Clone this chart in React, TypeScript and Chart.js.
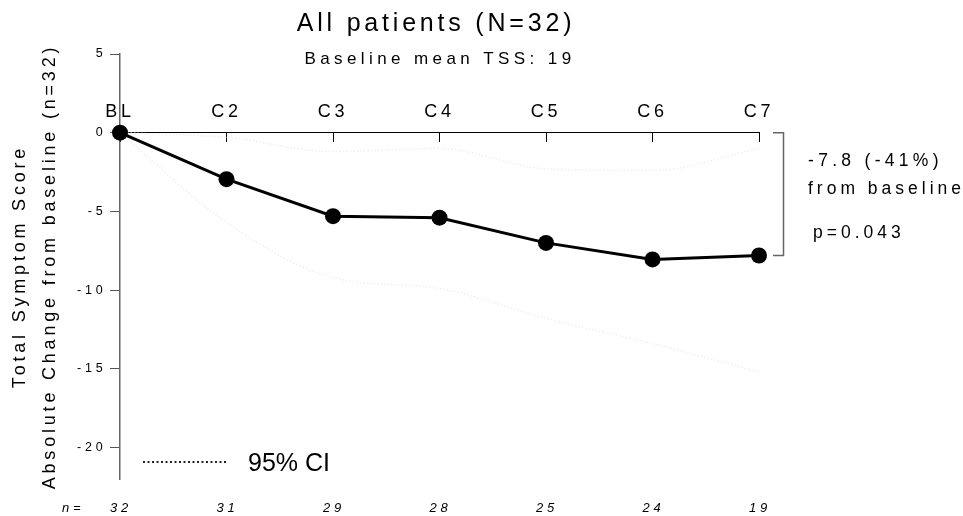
import React, { useEffect, useRef } from 'react';
import { Chart, registerables } from 'chart.js';

Chart.register(...registerables);

const categories = ['BL', 'C2', 'C3', 'C4', 'C5', 'C6', 'C7'];
const meanChange = [0, -2.95, -5.3, -5.4, -7.0, -8.05, -7.8];
const upperCI = [0, -0.3, -1.2, -1.0, -2.3, -2.4, -1.0];
const lowerCI = [0, -5.7, -9.2, -9.9, -11.8, -13.4, -15.2];
const nCounts = ['32', '31', '29', '28', '25', '24', '19'];
const yTicks = [5, 0, -5, -10, -15, -20];
const yMin = -22;
const yMax = 5;
const titleText = 'All patients (N=32)';
const subtitleText = 'Baseline mean TSS: 19';
const yTitleLines = ['Total Symptom Score', 'Absolute Change from baseline (n=32)'];
const annotationLines = ['-7.8 (-41%)', 'from baseline', 'p=0.043'];
const legendText = '95% CI';
const nLabel = 'n=';

const FONT = '"Liberation Sans", Arial, Helvetica, sans-serif';
const SPACING = '3.8px';

const spacingPlugin = {
  id: 'spacing',
  beforeDraw(chart: any) {
    (chart.ctx as any).letterSpacing = SPACING;
  },
};

const annotationsPlugin = {
  id: 'annotations',
  afterDraw(chart: any) {
    const ctx = chart.ctx as CanvasRenderingContext2D;
    const x = chart.scales.x;
    const y = chart.scales.y;
    ctx.save();
    (ctx as any).letterSpacing = SPACING;
    ctx.fillStyle = '#000';
    ctx.textBaseline = 'alphabetic';

    // Title + subtitle
    ctx.textAlign = 'center';
    ctx.font = `25px ${FONT}`;
    ctx.fillText(titleText, 436, 31);
    (ctx as any).letterSpacing = '4.4px';
    ctx.font = `17px ${FONT}`;
    ctx.fillText(subtitleText, 440, 64);

    // Bracket from baseline to last value
    const last = meanChange[meanChange.length - 1];
    const yTop = y.getPixelForValue(0);
    const yBot = y.getPixelForValue(last);
    const bx = 783.5;
    ctx.strokeStyle = '#666';
    ctx.lineWidth = 1.5;
    ctx.beginPath();
    ctx.moveTo(773, yTop);
    ctx.lineTo(bx, yTop);
    ctx.lineTo(bx, yBot);
    ctx.lineTo(773, yBot);
    ctx.stroke();

    // Annotation text
    ctx.textAlign = 'left';
    (ctx as any).letterSpacing = '4.3px';
    ctx.font = `17.5px ${FONT}`;
    ctx.fillText(annotationLines[0], 808, 166);
    (ctx as any).letterSpacing = '4px';
    ctx.fillText(annotationLines[1], 808, 194);
    ctx.fillText(annotationLines[2], 813, 238);

    // n row
    (ctx as any).letterSpacing = SPACING;
    ctx.font = `italic 13px ${FONT}`;
    ctx.textAlign = 'left';
    ctx.fillText(nLabel, 62, 512);
    ctx.textAlign = 'center';
    nCounts.forEach((n, i) => {
      ctx.fillText(n, x.getPixelForValue(i) + 1, 512);
    });

    // Legend
    ctx.strokeStyle = '#222';
    ctx.lineWidth = 2;
    ctx.setLineDash([2, 2.5]);
    ctx.beginPath();
    ctx.moveTo(143, 462);
    ctx.lineTo(228, 462);
    ctx.stroke();
    ctx.setLineDash([]);
    (ctx as any).letterSpacing = '0px';
    ctx.textAlign = 'left';
    ctx.font = `25px ${FONT}`;
    ctx.fillText(legendText, 248, 471);
    ctx.restore();
  },
};

export default function App() {
  const ref = useRef<HTMLCanvasElement | null>(null);

  useEffect(() => {
    if (!ref.current) return;
    const ciStyle = {
      borderColor: '#efefef',
      borderWidth: 1.5,
      borderDash: [1.5, 2],
      pointRadius: 0,
      fill: false,
      cubicInterpolationMode: 'monotone' as const,
      clip: false as any,
    };
    const chart = new Chart(ref.current, {
      type: 'line',
      data: {
        labels: categories,
        datasets: [
          {
            label: 'Mean change',
            data: meanChange,
            borderColor: '#000',
            backgroundColor: '#000',
            borderWidth: 3,
            pointRadius: 8,
            pointBackgroundColor: '#000',
            pointBorderColor: '#000',
            pointBorderWidth: 0,
            tension: 0,
            clip: false as any,
            order: 0,
          },
          { label: 'Upper 95% CI', data: upperCI, order: 1, ...ciStyle },
          { label: 'Lower 95% CI', data: lowerCI, order: 1, ...ciStyle },
        ],
      },
      options: {
        responsive: false,
        animation: false,
        events: [],
        layout: { padding: { left: 0, right: 204, top: 54, bottom: 37 } },
        plugins: {
          legend: { display: false },
          title: { display: false },
          tooltip: { enabled: false },
        },
        scales: {
          x: {
            type: 'category',
            offset: false,
            position: { y: 0 } as any,
            grid: {
              drawOnChartArea: false,
              drawTicks: true,
              tickLength: 9,
              tickColor: '#000',
              tickWidth: 1,
            },
            border: { display: true, color: '#000', width: 1 },
            ticks: {
              color: '#000',
              font: { family: FONT, size: 18 },
              padding: -40,
              maxRotation: 0,
              autoSkip: false,
            },
          },
          y: {
            type: 'linear',
            position: 'left',
            min: yMin,
            max: yMax,
            afterBuildTicks: (s: any) => {
              s.ticks = yTicks.map((v) => ({ value: v }));
            },
            afterFit: (s: any) => {
              s.width = 120;
            },
            grid: {
              drawOnChartArea: false,
              drawTicks: true,
              tickLength: 10,
              tickColor: '#555',
              tickWidth: 1,
            },
            border: { display: true, color: '#666', width: 1.5 },
            ticks: {
              color: '#000',
              font: { family: FONT, size: 12.5 },
              padding: 3.5,
            },
            title: {
              display: true,
              text: yTitleLines,
              color: '#000',
              font: { family: FONT, size: 18, lineHeight: 30 / 18 },
              padding: { top: 5.5, bottom: 0 },
            },
          },
        },
      },
      plugins: [spacingPlugin, annotationsPlugin],
    });
    return () => chart.destroy();
  }, []);

  return (
    <div style={{ position: 'absolute', left: 0, top: 0, width: 963, height: 516, background: '#fff' }}>
      <canvas ref={ref} width={963} height={516} style={{ display: 'block' }} />
    </div>
  );
}
